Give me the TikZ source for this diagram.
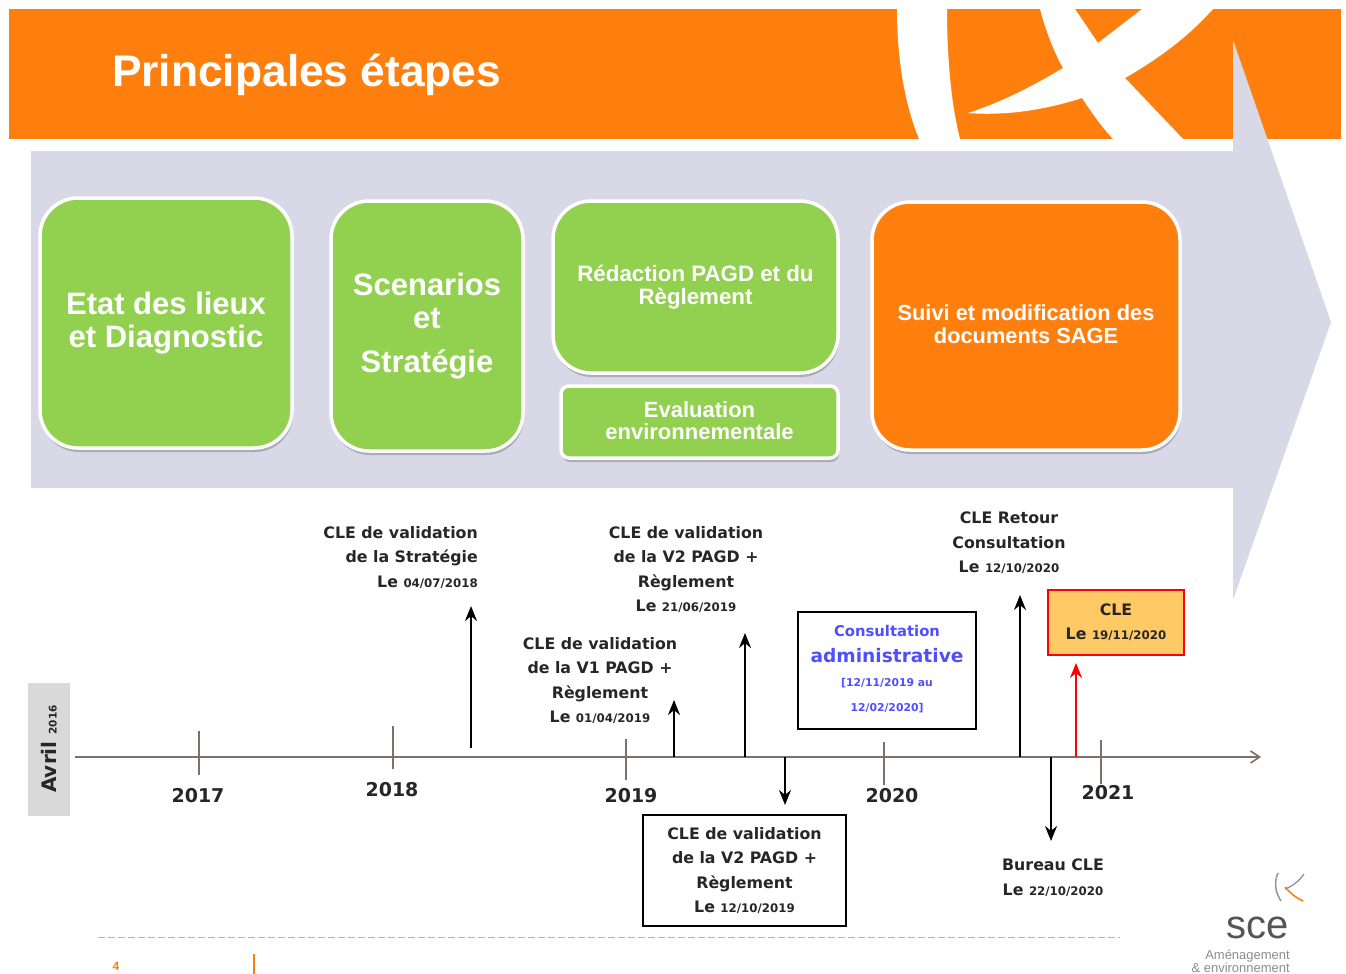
\documentclass[tikz,border=0pt]{standalone}
\usepackage{fontspec}
\setmainfont{Liberation Sans}
\newfontfamily\dvj{DejaVu Sans}
\usetikzlibrary{shadows,arrows.meta}
\definecolor{hdr}{HTML}{FF7F0E}
\definecolor{arrowbg}{HTML}{D8D8E6}
\definecolor{grn}{HTML}{92D050}
\definecolor{axisc}{HTML}{7F7070}
\definecolor{amber}{HTML}{FFC966}
\definecolor{blu}{HTML}{4F4FFF}
\definecolor{logog}{HTML}{555555}
\tikzset{
  x=1pt,y=-1pt,
  phase/.style={draw=white,line width=3.5pt,rounded corners=38pt,inner sep=0pt,align=center,text=white,
    drop shadow={shadow xshift=1pt,shadow yshift=-4pt,fill=black,opacity=.2}},
  tick/.style={axisc,line width=1.3pt},
  year/.style={font=\dvj\bfseries\fontsize{19}{22}\selectfont,inner sep=0pt,text=black!85},
  lab/.style={font=\dvj\bfseries\fontsize{15.8}{24.5}\selectfont,align=center,inner sep=0pt,text=black!85},
  evt/.style={line width=2pt,black,-{Stealth[length=15pt,width=12pt]}},
  sbox/.style={draw=black,line width=2pt,fill=white,inner sep=0pt,align=center},
}
\newcommand{\dt}[1]{{\fontsize{11.8}{24.5}\selectfont #1}}
\begin{document}
\begin{tikzpicture}
\useasboundingbox (0,0) rectangle (1346,974);
% header
\fill[hdr] (9,9) rectangle (1341,139);
\begin{scope}
\clip (9,9) rectangle (1341,139);
\fill[white] (897,9) .. controls (897,60) and (905,105) .. (919,139) -- (960,139)
  .. controls (950,100) and (947,50) .. (947,9) -- cycle;
\fill[white] (1040,9) -- (1075,9) -- (1098,43) -- (1142,9) -- (1213,9)
  .. controls (1190,35) and (1160,58) .. (1125,78) -- (1183,139) -- (1113,139)
  .. controls (1100,125) and (1090,110) .. (1082,98)
  .. controls (1045,110) and (1005,116) .. (968,113)
  .. controls (1000,103) and (1035,85) .. (1063,68)
  .. controls (1052,48) and (1045,28) .. (1040,9) -- cycle;
\end{scope}
\node[anchor=west,inner sep=0pt,text=white,font=\bfseries\fontsize{44.3}{50}\selectfont] (title) at (112,75) {Principales étapes};
% big arrow
\fill[arrowbg] (31,151) -- (1233,151) -- (1233,40) -- (1331,322) -- (1233,600) -- (1233,488) -- (31,488) -- cycle;
% phases
\node[phase,fill=grn,minimum width=252pt,minimum height=250pt,font=\bfseries\fontsize{31}{33}\selectfont] (p1) at (166,323)
  {Etat des lieux\\et Diagnostic};
\node[phase,fill=grn,minimum width=192pt,minimum height=250pt,font=\bfseries\fontsize{31}{44}\selectfont] (p2) at (427,326)
  {Scenarios\\[-11pt]et\\Stratégie};
\node[phase,fill=grn,minimum width=285pt,minimum height=172pt,font=\bfseries\fontsize{22.3}{23}\selectfont] (p3) at (695.5,287)
  {Rédaction PAGD et du\\Règlement};
\node[phase,fill=grn,rounded corners=8pt,minimum width=277pt,minimum height=72pt,font=\bfseries\fontsize{22}{22}\selectfont] (p4) at (699.5,422)
  {\raisebox{2pt}{Evaluation}\\\raisebox{2pt}{environnementale}};
\node[phase,fill=hdr,minimum width=308pt,minimum height=248pt,font=\bfseries\fontsize{21.8}{23}\selectfont] (p5) at (1026,326)
  {\raisebox{4pt}{Suivi et modification des}\\\raisebox{4pt}{documents SAGE}};
% timeline
\node[fill=black!15,minimum width=42pt,minimum height=133pt,inner sep=0pt] (av) at (49,749.5) {};
\node[rotate=90,inner sep=0pt,font=\dvj\bfseries\fontsize{20}{22}\selectfont,text=black!85] (avt) at (49,749) {Avril \fontsize{10.5}{14}\selectfont 2016};
\coordinate (ax0) at (75,757);
\coordinate (ax1) at (1261,757);
\draw[axisc,line width=1.6pt,-{Straight Barb[length=9pt,width=12pt]}] (ax0) -- (ax1);
\draw[tick] (199,731) -- (199,775);
\draw[tick] (393,726) -- (393,769);
\draw[tick] (626,739) -- (626,780);
\draw[tick] (884,742) -- (884,785);
\draw[tick] (1101,740) -- (1101,784);
\node[year] (y17) at (198,796) {2017};
\node[year] (y18) at (392,790) {2018};
\node[year] (y19) at (631,796) {2019};
\node[year] (y20) at (892,796) {2020};
\node[year] (y21) at (1108,793) {2021};
% labels
\node[lab,anchor=north east,align=right] (l1) at (478,526) {CLE de validation\\de la Stratégie\\Le \dt{04/07/2018}};
\node[lab,anchor=north] (l2) at (600,637) {CLE de validation\\de la V1 PAGD +\\Règlement\\Le \dt{01/04/2019}};
\node[lab,anchor=north] (l3) at (686,526) {CLE de validation\\de la V2 PAGD +\\Règlement\\Le \dt{21/06/2019}};
\node[lab,anchor=north] (l4) at (1009,512) {CLE Retour\\Consultation\\Le \dt{12/10/2020}};
\node[sbox,minimum width=178pt,minimum height=117pt,text=blu,font=\fontsize{15}{25}\selectfont\dvj\bfseries] (consult) at (887,670.5)
  {\raisebox{4pt}{\fontsize{14.8}{25}\selectfont Consultation}\\
   \raisebox{3pt}{\fontsize{18.6}{25}\selectfont administrative}\\
   \raisebox{4pt}{\fontsize{10.8}{25}\selectfont [12/11/2019 au}\\
   \raisebox{4pt}{\fontsize{10.8}{25}\selectfont 12/02/2020]}};
\node[sbox,draw=red,fill=amber,line width=2.5pt,minimum width=136pt,minimum height=65pt,font=\dvj\bfseries\fontsize{15.8}{24}\selectfont,text=black!85] (cle) at (1116,622.5)
  {CLE\\Le \dt{19/11/2020}};
\node[sbox,minimum width=203pt,minimum height=111pt,font=\dvj\bfseries\fontsize{15.8}{24.5}\selectfont,text=black!85] (v2box) at (744.5,870.5)
  {CLE de validation\\de la V2 PAGD +\\Règlement\\Le \dt{12/10/2019}};
\node[lab,anchor=north] (bur) at (1053,859) {Bureau CLE\\Le \dt{22/10/2020}};
% events
\coordinate (a1) at (471,748);
\coordinate (a2) at (674,757);
\coordinate (a3) at (745,757);
\coordinate (a4) at (1020,757);
\coordinate (a5) at (1076,757);
\coordinate (a6) at (785,757);
\coordinate (a7) at (1051,757);
\coordinate (t1) at (471,606);
\coordinate (t2) at (674,700);
\coordinate (t3) at (745,633);
\coordinate (t4) at (1020,595);
\coordinate (t5) at (1076,663);
\coordinate (t6) at (785,805);
\coordinate (t7) at (1051,841);
\draw[evt] (a1) -- (t1);
\draw[evt] (a2) -- (t2);
\draw[evt] (a3) -- (t3);
\draw[evt] (a4) -- (t4);
\draw[evt,red] (a5) -- (t5);
\draw[evt] (a6) -- (t6);
\draw[evt] (a7) -- (t7);
% footer
\coordinate (f0) at (98,937);
\coordinate (f1) at (1120,937);
\draw[black!30,line width=1pt,dash pattern=on 7pt off 3pt] (f0) -- (f1);
\node[inner sep=0pt,text=hdr,font=\bfseries\fontsize{12}{14}\selectfont] (pg) at (116,966) {4};
\draw[hdr,line width=1.6pt] (254,954) -- (254,974);
% logo
\draw[black!40,line width=1.6pt] (1278,873) .. controls (1274,882) and (1275,892) .. (1281,901);
\draw[blu!60!black!60,line width=1.2pt] (1304,874) .. controls (1299,881) and (1293,886) .. (1285,889);
\draw[hdr,line width=1.6pt] (1285,887) .. controls (1290,893) and (1296,898) .. (1303,901);
\node[inner sep=0pt,text=logog,font=\fontsize{40}{44}\selectfont] (sce) at (1258,928) {sce};
\node[anchor=north east,inner sep=0pt,align=right,text=black!45,font=\fontsize{13}{13}\selectfont] (sub) at (1290,950) {Aménagement\\\& environnement};
\end{tikzpicture}
\end{document}
